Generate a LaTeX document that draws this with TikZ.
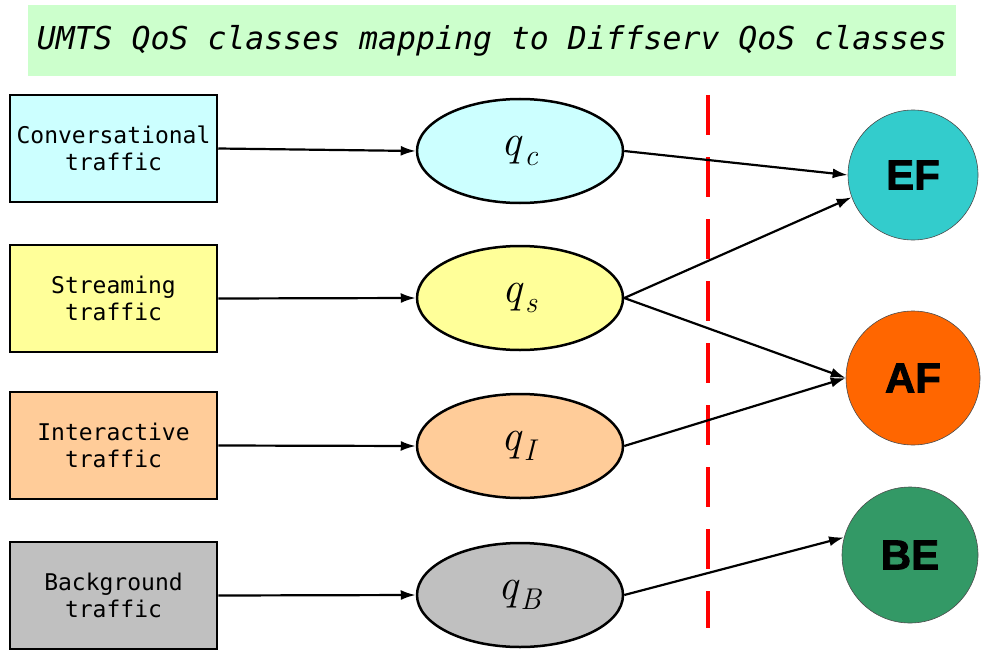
\documentclass[tikz,border=0pt]{standalone}
\usepackage{fontspec}
\newfontfamily\monofont{DejaVu Sans Mono}
\newfontfamily\blacksans[UprightFont={* Bold},UprightFeatures={FakeBold=2}]{Liberation Sans}
\usetikzlibrary{arrows.meta,shapes.geometric}
\definecolor{titlebg}{HTML}{CCFFCC}
\definecolor{cconv}{HTML}{CCFFFF}
\definecolor{cstream}{HTML}{FFFF99}
\definecolor{cinter}{HTML}{FFCC99}
\definecolor{cback}{HTML}{C0C0C0}
\definecolor{cef}{HTML}{33CCCC}
\definecolor{caf}{HTML}{FF6600}
\definecolor{cbe}{HTML}{339966}
\newcommand{\qlab}[1]{\textit{q}\kern1pt\raisebox{-10pt}{\fontsize{30}{34}\selectfont\textit{#1}}}
\tikzset{
  trafficbox/.style={draw=black, line width=2.5pt, minimum width=207pt, minimum height=107pt, align=center, inner sep=0pt, font=\monofont\fontsize{23}{27}\selectfont},
  qnode/.style={ellipse, draw=black, line width=2.5pt, minimum width=206pt, minimum height=104pt, inner sep=0pt, font=\fontsize{44}{50}\selectfont},
  dsnode/.style={circle, draw=black!70, line width=0.6pt, inner sep=0pt, font=\blacksans\fontsize{42}{48}\selectfont},
  conn/.style={line width=2.2pt, -{Latex[length=15pt,width=10pt]}},
}
\begin{document}
\begin{tikzpicture}[x=1pt,y=-1pt]
\useasboundingbox (0,0) rectangle (984,650);
\node[fill=titlebg, minimum width=928pt, minimum height=71pt, inner sep=0pt, font=\monofont\itshape\fontsize{31.5}{36}\selectfont] (title) at (492,40.5) {UMTS QoS classes mapping to Diffserv QoS classes};

\node[trafficbox, fill=cconv] (conv) at (113.5,148.5) {Conversational\\traffic};
\node[trafficbox, fill=cstream] (stream) at (113.5,298.5) {Streaming\\traffic};
\node[trafficbox, fill=cinter] (inter) at (113.5,445.5) {Interactive\\traffic};
\node[trafficbox, fill=cback] (back) at (113.5,595.5) {Background\\traffic};

\node[qnode, fill=cconv] (qc) at (520,151) {\qlab{c}};
\node[qnode, fill=cstream] (qs) at (520,298) {\qlab{s}};
\node[qnode, fill=cinter] (qi) at (520,446) {\qlab{I}};
\node[qnode, fill=cback] (qb) at (520,595) {\qlab{B}};

\node[dsnode, fill=cef, minimum size=130pt] (ef) at (913,175) {EF};
\node[dsnode, fill=caf, minimum size=134pt] (af) at (913,378) {AF};
\node[dsnode, fill=cbe, minimum size=136pt] (be) at (910,555) {BE};

\coordinate (dtop) at (708,95);
\coordinate (dbot) at (708,628);
\draw[red, line width=4pt, dash pattern=on 40pt off 22pt] (dtop) -- (dbot);

\draw[conn] (conv.east) -- (qc.west);
\draw[conn] (stream.east) -- (qs.west);
\draw[conn] (inter.east) -- (qi.west);
\draw[conn] (back.east) -- (qb.west);

\draw[conn] (qc.east) -- (ef.west);
\draw[conn] (qs.east) -- (ef.200);
\draw[conn] (qs.east) -- (af.west);
\draw[conn] (qi.east) -- (af.180);
\draw[conn] (qb.east) -- (be.165);
\end{tikzpicture}
\end{document}
